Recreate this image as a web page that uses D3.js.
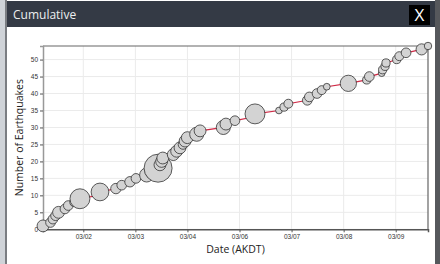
<!DOCTYPE html>
<html>
<head>
<meta charset="utf-8">
<script src="https://cdn.jsdelivr.net/npm/d3@7"></script>
<style>
  html, body { margin: 0; padding: 0; background: #fff; }
  svg { display: block; }
</style>
</head>
<body>
<div id="vis"></div>
<script>
// event times (AKDT, UTC-8), one per earthquake, in order
const times = [
    '2023-03-01T18:03', '2023-03-01T22:03', '2023-03-01T23:21', '2023-03-02T00:45', '2023-03-02T02:21',
    '2023-03-02T05:45', '2023-03-02T07:33', '2023-03-02T10:33', '2023-03-02T13:45', '2023-03-02T23:21',
    '2023-03-03T00:27', '2023-03-03T08:57', '2023-03-03T12:03', '2023-03-03T16:27', '2023-03-03T19:39',
    '2023-03-04T01:21', '2023-03-04T04:15', '2023-03-04T07:27', '2023-03-04T08:27', '2023-03-04T09:21',
    '2023-03-04T09:57', '2023-03-04T15:33', '2023-03-04T17:21', '2023-03-04T19:09', '2023-03-04T20:45',
    '2023-03-04T21:51', '2023-03-04T23:03', '2023-03-05T04:03', '2023-03-05T05:51', '2023-03-05T18:15',
    '2023-03-05T19:39', '2023-03-06T00:27', '2023-03-06T09:33', '2023-03-06T11:09', '2023-03-06T23:57',
    '2023-03-07T02:39', '2023-03-07T04:57', '2023-03-07T15:03', '2023-03-07T16:09', '2023-03-07T20:15',
    '2023-03-07T22:45', '2023-03-08T01:27', '2023-03-08T12:57', '2023-03-08T22:45', '2023-03-09T00:09',
    '2023-03-09T06:45', '2023-03-09T07:15', '2023-03-09T08:33', '2023-03-09T09:03', '2023-03-09T14:45',
    '2023-03-09T16:09', '2023-03-09T19:45', '2023-03-10T04:03', '2023-03-10T07:27'
];

// magnitudes (drive circle size)
const magnitudes = [
    1.8, 1.5, 1.5, 1.5, 1.8, 1.5, 1.5, 1.3, 2.9, 1.3,
    2.6, 1.6, 1.5, 1.6, 1.5, 2.1, 2.1, 4.0, 1.8, 1.8,
    1.8, 1.8, 1.8, 1.8, 1.5, 1.8, 1.8, 2.1, 1.8, 2.1,
    1.8, 1.5, 1.3, 2.9, 1.1, 1.3, 1.4, 1.5, 1.5, 1.5,
    1.4, 1.1, 2.4, 1.3, 1.5, 1.1, 1.3, 1.3, 1.3, 1.3,
    1.4, 1.5, 1.7, 1.2
];

const yTicks = [0, 5, 10, 15, 20, 25, 30, 35, 40, 45, 50];

const tzOffset = -8; // AKDT
const toMs = s => Date.parse(s + 'Z') - tzOffset * 3600e3;
const fmtDay = d3.utcFormat('%m/%d');

const data = times.map((t, i) => ({ t: toMs(t), count: i + 1, mag: magnitudes[i] }));

const W = 440, H = 264;
const margin = { top: 46, right: 12, bottom: 35, left: 43 };
const plotR = 428, plotB = 229.3;

const svg = d3.select('#vis').append('svg')
    .attr('width', W)
    .attr('height', H);

// window frame
svg.append('rect').attr('x', 0).attr('y', 0).attr('width', W).attr('height', H).attr('fill', '#cfd3d8');
svg.append('rect').attr('x', 5).attr('y', 0).attr('width', 430).attr('height', H).attr('fill', '#7a7d82');
svg.append('rect').attr('x', 7).attr('y', 0).attr('width', 428).attr('height', H).attr('fill', '#fff');
svg.append('rect').attr('x', 435).attr('y', 0).attr('width', 5).attr('height', H).attr('fill', '#56585c');
svg.append('rect').attr('x', 7).attr('y', 1).attr('width', 428).attr('height', 26).attr('fill', '#343a45');
svg.append('text')
    .attr('x', 13).attr('y', 18.5)
    .attr('fill', '#eceef0')
    .attr('font-family', 'Open Sans, sans-serif')
    .attr('font-size', '12px')
    .text('Cumulative');
svg.append('rect').attr('x', 409).attr('y', 5).attr('width', 21).attr('height', 20).attr('fill', '#000');
svg.append('text')
    .attr('x', 419.5).attr('y', 21)
    .attr('text-anchor', 'middle')
    .attr('fill', '#fff')
    .attr('font-family', 'Open Sans, sans-serif')
    .attr('font-size', '17px')
    .text('X');

const x = d3.scaleLinear()
    .domain(d3.extent(data, d => d.t))
    .range([margin.left, plotR]);

const y = d3.scaleLinear()
    .domain([0, d3.max(data, d => d.count)])
    .range([plotB, margin.top]);

const r = d3.scaleLinear()
    .domain([1, 4])
    .range([3, 14]);

// grid
svg.append('g')
    .selectAll('line')
    .data(yTicks)
    .join('line')
    .attr('x1', margin.left).attr('x2', plotR)
    .attr('y1', d => y(d)).attr('y2', d => y(d))
    .attr('stroke', '#ebebeb');

svg.append('g')
    .selectAll('line')
    .data(x.ticks())
    .join('line')
    .attr('x1', d => x(d)).attr('x2', d => x(d))
    .attr('y1', margin.top).attr('y2', plotB)
    .attr('stroke', '#ebebeb');

// plot border (top, right)
svg.append('path')
    .attr('d', `M${margin.left},${margin.top}H${plotR}V${plotB}`)
    .attr('fill', 'none')
    .attr('stroke', '#666')
    .attr('stroke-width', 1.2);

const xAxis = svg.append('g')
    .attr('transform', `translate(0, ${plotB})`)
    .call(d3.axisBottom(x).tickSize(3).tickPadding(2).tickFormat(d => fmtDay(new Date(d + tzOffset * 3600e3))));

const yAxis = svg.append('g')
    .attr('transform', `translate(${margin.left}, 0)`)
    .call(d3.axisLeft(y).tickValues(yTicks).tickSize(3).tickPadding(2));

xAxis.select('.domain').attr('stroke', '#555').attr('stroke-width', 1.5);
yAxis.select('.domain').attr('stroke', '#999').attr('stroke-width', 1.5);
svg.selectAll('.tick line').attr('stroke', '#555');
svg.selectAll('.tick text')
    .attr('fill', '#333')
    .attr('font-family', 'Liberation Sans, Arial, sans-serif')
    .attr('font-size', '6.5px');

svg.append('text')
    .attr('transform', `rotate(-90)`)
    .attr('x', -(margin.top + plotB) / 2)
    .attr('y', 23)
    .attr('text-anchor', 'middle')
    .attr('fill', '#222')
    .attr('font-family', 'Open Sans, sans-serif')
    .attr('font-size', '10.5px')
    .text('Number of Earthquakes');

svg.append('text')
    .attr('x', (margin.left + plotR) / 2)
    .attr('y', 253)
    .attr('text-anchor', 'middle')
    .attr('fill', '#222')
    .attr('font-family', 'Open Sans, sans-serif')
    .attr('font-size', '10.5px')
    .text('Date (AKDT)');

// cumulative line
svg.append('path')
    .datum(data)
    .attr('fill', 'none')
    .attr('stroke', '#d02a46')
    .attr('stroke-width', 1.2)
    .attr('d', d3.line().x(d => x(d.t)).y(d => y(d.count)));

svg.append('g')
    .selectAll('circle')
    .data(data)
    .join('circle')
    .attr('cx', d => x(d.t))
    .attr('cy', d => y(d.count))
    .attr('r', d => r(d.mag))
    .attr('fill', '#d3d3d3')
    .attr('stroke', '#333')
    .attr('stroke-width', 0.8);
</script>
</body>
</html>
